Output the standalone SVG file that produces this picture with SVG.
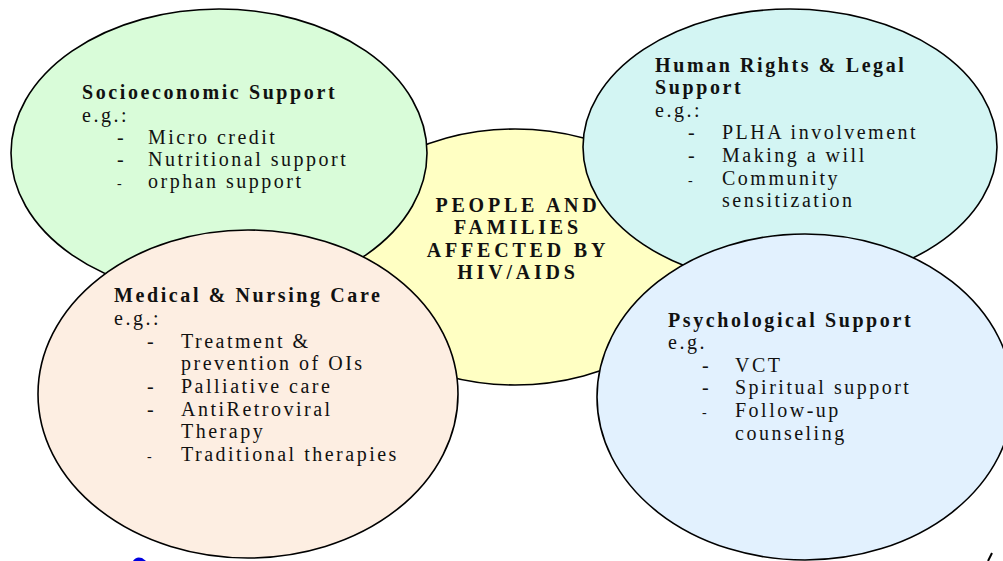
<svg xmlns="http://www.w3.org/2000/svg" width="1003" height="561" viewBox="0 0 1003 561">
<style>
.el{stroke:#000;stroke-width:1.6}
text{font-family:"Liberation Serif","Times New Roman",serif;font-size:20px;fill:#111;letter-spacing:2.5px}
.t{font-weight:bold;letter-spacing:2.6px}
.c{font-weight:bold;letter-spacing:3.8px;text-anchor:middle}
.d{font-size:14px}
</style>
<rect width="1003" height="561" fill="#fff"/>
<g id="center">
<ellipse class="el" cx="515" cy="257" rx="186" ry="128" fill="#FFFFC3"/>
<text class="c" x="518" y="212">PEOPLE AND</text>
<text class="c" x="518" y="234">FAMILIES</text>
<text class="c" x="518" y="257">AFFECTED BY</text>
<text class="c" x="518" y="279">HIV/AIDS</text>
</g>
<g id="socioeconomic">
<ellipse class="el" cx="219" cy="153" rx="208" ry="144" fill="#D9FCD9"/>
<text class="t" x="82" y="99">Socioeconomic Support</text>
<text x="82" y="122">e.g.:</text>
<text x="117" y="144">-</text><text x="148" y="144">Micro credit</text>
<text x="117" y="166">-</text><text x="148" y="166">Nutritional support</text>
<text x="117" y="188" class="d">-</text><text x="148" y="188">orphan support</text>
</g>
<g id="humanrights">
<ellipse class="el" cx="790" cy="147" rx="207" ry="138" fill="#D3F5F3"/>
<text class="t" x="655" y="72">Human Rights &amp; Legal</text>
<text class="t" x="655" y="94">Support</text>
<text x="655" y="117">e.g.:</text>
<text x="688" y="139">-</text><text x="722" y="139">PLHA involvement</text>
<text x="688" y="162">-</text><text x="722" y="162">Making a will</text>
<text x="688" y="185" class="d">-</text><text x="722" y="185">Community</text>
<text x="722" y="207">sensitization</text>
</g>
<g id="medical">
<ellipse class="el" cx="248" cy="394" rx="210" ry="164" fill="#FDEEE2"/>
<text class="t" x="114" y="302">Medical &amp; Nursing Care</text>
<text x="114" y="325">e.g.:</text>
<text x="147" y="348">-</text><text x="181" y="348">Treatment &amp;</text>
<text x="181" y="370">prevention of OIs</text>
<text x="147" y="393">-</text><text x="181" y="393">Palliative care</text>
<text x="147" y="416">-</text><text x="181" y="416">AntiRetroviral</text>
<text x="181" y="438">Therapy</text>
<text x="147" y="461" class="d">-</text><text x="181" y="461">Traditional therapies</text>
</g>
<g id="psychological">
<ellipse class="el" cx="805" cy="397" rx="208" ry="163" fill="#E2F1FE"/>
<text class="t" x="668" y="327">Psychological Support</text>
<text x="668" y="349">e.g.</text>
<text x="702" y="372">-</text><text x="735" y="372">VCT</text>
<text x="702" y="394">-</text><text x="735" y="394">Spiritual support</text>
<text x="702" y="417" class="d">-</text><text x="735" y="417">Follow-up</text>
<text x="735" y="440">counseling</text>
</g>
<g id="connectors"></g>
<path d="M133 561 Q136 556 142 558 L146 561 Z" fill="#0000E0"/>
<path d="M988 561 L992 553" stroke="#000" stroke-width="2"/>
</svg>
